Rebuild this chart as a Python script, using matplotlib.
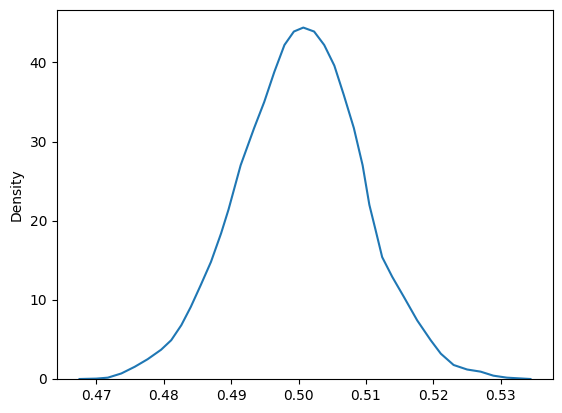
import matplotlib
matplotlib.use("Agg")
import matplotlib.pyplot as plt

# KDE curve
x_vals = [0.4675, 0.4700, 0.4717, 0.4737, 0.4757, 0.4776, 0.4796, 0.4811,
          0.4826, 0.4840, 0.4855, 0.4870, 0.4885, 0.4896, 0.4914, 0.4934,
          0.4949, 0.4964, 0.4979, 0.4993, 0.5007, 0.5023, 0.5038, 0.5053,
          0.5067, 0.5082, 0.5095, 0.5105, 0.5114, 0.5124, 0.5139, 0.5156,
          0.5176, 0.5196, 0.5211, 0.5230, 0.5250, 0.5270, 0.5289, 0.5309,
          0.5344]
density = [0.0, 0.05, 0.17, 0.7, 1.55, 2.5, 3.7, 4.9,
           6.8, 9.1, 11.9, 14.8, 18.4, 21.4, 27.0, 31.7,
           35.0, 38.8, 42.2, 43.9, 44.4, 43.9, 42.2, 39.6,
           35.9, 31.7, 27.0, 22.0, 18.9, 15.4, 12.9, 10.4,
           7.4, 4.9, 3.2, 1.77, 1.2, 0.93, 0.42, 0.17,
           0.0]

fig = plt.figure(figsize=(5.62, 4.13), dpi=100)
ax = fig.add_axes([57 / 562, 34 / 413, 496 / 562, 369 / 413])
ax.plot(x_vals, density, color="#1f77b4", linewidth=1.5)
ax.set_ylim(bottom=0)
ax.set_ylabel("Density")
fig.savefig("out.png", dpi=100)
